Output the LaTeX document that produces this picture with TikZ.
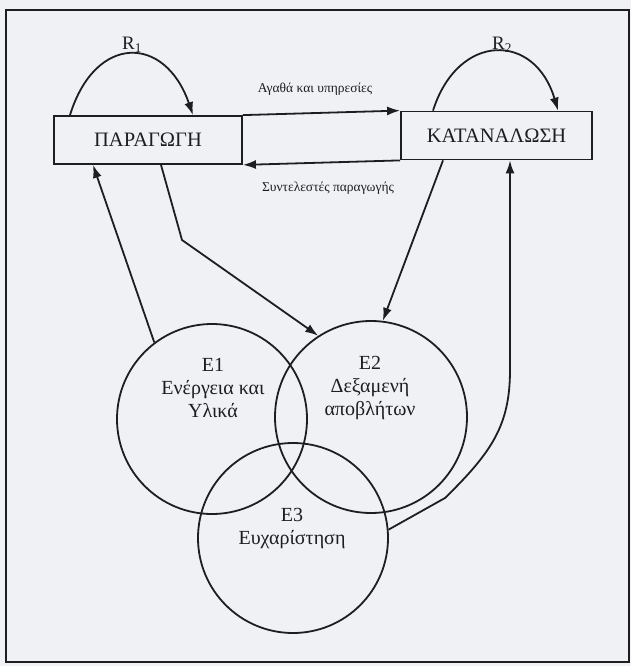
\documentclass[tikz,border=0pt]{standalone}
\usepackage{fontspec}
\setmainfont{Liberation Serif}
\usetikzlibrary{arrows.meta}
\definecolor{bg}{RGB}{240,241,245}
\definecolor{ink}{RGB}{30,30,33}
\begin{document}
\begin{tikzpicture}[x=1pt,y=-1pt,
  ln/.style={draw=ink,line width=1.8pt},
  arr/.style={ln,-{Latex[length=13pt,width=9pt]}},
  box/.style={ln,minimum height=48pt,inner sep=0pt,text=ink,font=\fontsize{20.5}{24}\selectfont},
  circ/.style={ln,circle,inner sep=0pt,minimum size=190pt},
  ctext/.style={align=center,text=ink,font=\fontsize{20}{23}\selectfont,inner sep=0pt},
  small/.style={text=ink,font=\fontsize{13.5}{16}\selectfont,inner sep=0pt},
  rlab/.style={text=ink,font=\fontsize{19}{22}\selectfont,inner sep=0pt}]
\fill[bg] (0,0) rectangle (631,666);
\useasboundingbox (0,0) rectangle (631,666);
\draw[ink,line width=2pt] (6,10) rectangle (629,662);

% boxes
\node[box,minimum width=188pt] (P) at (148,140) {ΠΑΡΑΓΩΓΗ};
\node[box,minimum width=191pt] (K) at (496.5,135.5) {ΚΑΤΑΝΑΛΩΣΗ};

% circles
\node[circ] (E1) at (212,419) {};
\node[circ,minimum size=192pt] (E2) at (371,417) {};
\node[circ] (E3) at (293,538) {};
\node[ctext] (t1) at (213,388) {E1\\Ενέργεια και\\Υλικά};
\node[ctext] (t2) at (370,388) {E2\\Δεξαμενή\\αποβλήτων};
\node[ctext] (t3) at (292,529) {E3\\Ευχαρίστηση};

% labels
\node[rlab] (r1) at (132,45) {R\textsubscript{1}};
\node[rlab] (r2) at (502,45) {R\textsubscript{2}};
\node[small] (goods) at (315,89) {Αγαθά και υπηρεσίες};
\node[small] (factors) at (328,188) {Συντελεστές παραγωγής};

% self loops
\draw[arr] ([xshift=-78pt]P.north) .. controls (95,34) and (165,34) .. ([xshift=45pt]P.north);
\draw[arr] ([xshift=-63.5pt]K.north) .. controls (458,32) and (535,32) .. ([xshift=61.5pt]K.north);

% flows between boxes
\draw[arr] (P.north east) -- (K.north west);
\draw[arr] (K.south west) -- (P.south east);

% flows with circles
\draw[arr] (E1.127) -- ([xshift=-55pt]P.south);
\draw[arr] ([xshift=13pt]P.south) -- (182,240) -- (E2.123);
\draw[arr] ([xshift=-53.5pt]K.south) -- (E2.83);
\draw[arr] (E3.5) -- (445,498) .. controls (492,452) and (510,425) .. (510,370) -- ([xshift=13.5pt]K.south);
\end{tikzpicture}
\end{document}
